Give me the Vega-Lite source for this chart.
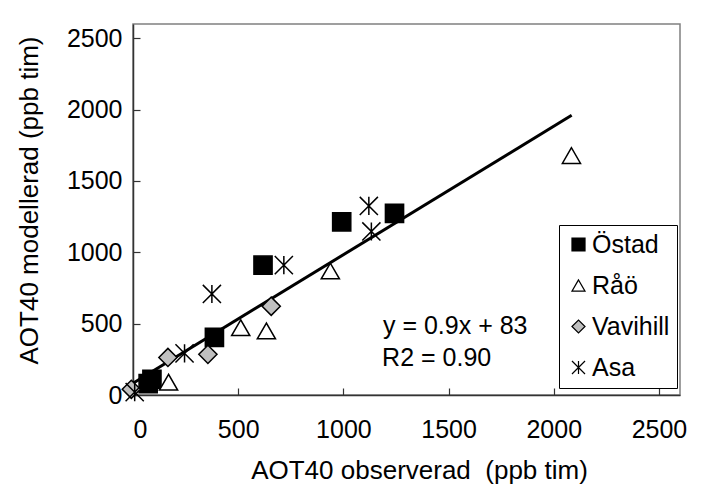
{
  "$schema": "https://vega.github.io/schema/vega-lite/v6.json",
  "width": 547,
  "height": 371,
  "autosize": "none",
  "padding": {"left": 133, "top": 24, "right": 30, "bottom": 91},
  "background": "white",
  "config": {
    "font": "Liberation Sans",
    "view": {"stroke": "#808080", "strokeWidth": 1.5},
    "axis": {
      "grid": false,
      "domainColor": "#333333",
      "domainWidth": 1.5,
      "tickColor": "#333333",
      "tickWidth": 1.2,
      "labelColor": "black",
      "labelFontSize": 25,
      "titleFontSize": 26,
      "titleFontWeight": "normal",
      "titleColor": "black",
      "format": "d"
    },
    "legend": {
      "labelFontSize": 25,
      "labelColor": "black"
    }
  },
  "datasets": {
    "points": [
      {"obs": 992, "mod": 1213, "station": "Östad"},
      {"obs": 1243, "mod": 1273, "station": "Östad"},
      {"obs": 618, "mod": 910, "station": "Östad"},
      {"obs": 387, "mod": 404, "station": "Östad"},
      {"obs": 90, "mod": 110, "station": "Östad"},
      {"obs": 72, "mod": 80, "station": "Östad"},
      {"obs": 2084, "mod": 1678, "station": "Råö"},
      {"obs": 938, "mod": 869, "station": "Råö"},
      {"obs": 512, "mod": 472, "station": "Råö"},
      {"obs": 634, "mod": 449, "station": "Råö"},
      {"obs": 169, "mod": 90, "station": "Råö"},
      {"obs": 657, "mod": 622, "station": "Vavihill"},
      {"obs": 356, "mod": 285, "station": "Vavihill"},
      {"obs": 166, "mod": 263, "station": "Vavihill"},
      {"obs": -8, "mod": 40, "station": "Vavihill"},
      {"obs": 1121, "mod": 1325, "station": "Asa"},
      {"obs": 1133, "mod": 1146, "station": "Asa"},
      {"obs": 717, "mod": 910, "station": "Asa"},
      {"obs": 375, "mod": 708, "station": "Asa"},
      {"obs": 245, "mod": 292, "station": "Asa"},
      {"obs": 8, "mod": 20, "station": "Asa"}
    ],
    "fit": [
      {"obs": 0, "mod": 83},
      {"obs": 2085, "mod": 1960}
    ],
    "notes": [
      {"obs": 1188, "mod": 425, "text": "y = 0.9x + 83"},
      {"obs": 1184, "mod": 202, "text": "R2 = 0.90"}
    ]
  },
  "layer": [
    {
      "data": {"name": "fit"},
      "mark": {"type": "line", "color": "black", "strokeWidth": 3},
      "encoding": {
        "x": {"field": "obs", "type": "quantitative", "scale": {"domain": [0, 2500]},
          "axis": {"values": [0, 500, 1000, 1500, 2000, 2500], "tickSize": -7, "labelPadding": 29,
            "title": "AOT40 observerad \u00a0(ppb tim)", "titlePadding": 15, "titleX": 286}},
        "y": {"field": "mod", "type": "quantitative", "scale": {"domain": [0, 2500]},
          "axis": {"values": [0, 500, 1000, 1500, 2000, 2500], "tickSize": -7, "labelPadding": 18,
            "title": "AOT40 modellerad (ppb tim)", "titlePadding": 24, "titleY": 176}}
      }
    },
    {
      "data": {"name": "points"},
      "mark": {"type": "point", "filled": false, "opacity": 1, "size": 330, "strokeWidth": 1.5},
      "encoding": {
        "x": {"field": "obs", "type": "quantitative"},
        "y": {"field": "mod", "type": "quantitative"},
        "shape": {"field": "station", "type": "nominal",
          "scale": {"domain": ["Östad", "Råö", "Vavihill", "Asa"],
            "range": ["square", "triangle-up", "diamond", "M-1,-1L1,1M-1,1L1,-1M0,-1L0,1"]},
          "legend": {"title": null, "orient": "none", "legendX": 426, "legendY": 201,
            "strokeColor": "black", "fillColor": "white", "padding": 7, "rowPadding": 15,
            "symbolSize": 170, "symbolStrokeWidth": 1.2, "labelOffset": 1}},
        "fill": {"field": "station", "type": "nominal",
          "scale": {"domain": ["Östad", "Råö", "Vavihill", "Asa"],
            "range": ["black", "white", "#c0c0c0", "black"]}},
        "stroke": {"field": "station", "type": "nominal",
          "scale": {"domain": ["Östad", "Råö", "Vavihill", "Asa"],
            "range": ["black", "black", "black", "black"]}}
      }
    },
    {
      "data": {"name": "notes"},
      "mark": {"type": "text", "align": "left", "baseline": "alphabetic", "fontSize": 25, "color": "black"},
      "encoding": {
        "x": {"field": "obs", "type": "quantitative"},
        "y": {"field": "mod", "type": "quantitative"},
        "text": {"field": "text"}
      }
    }
  ]
}
